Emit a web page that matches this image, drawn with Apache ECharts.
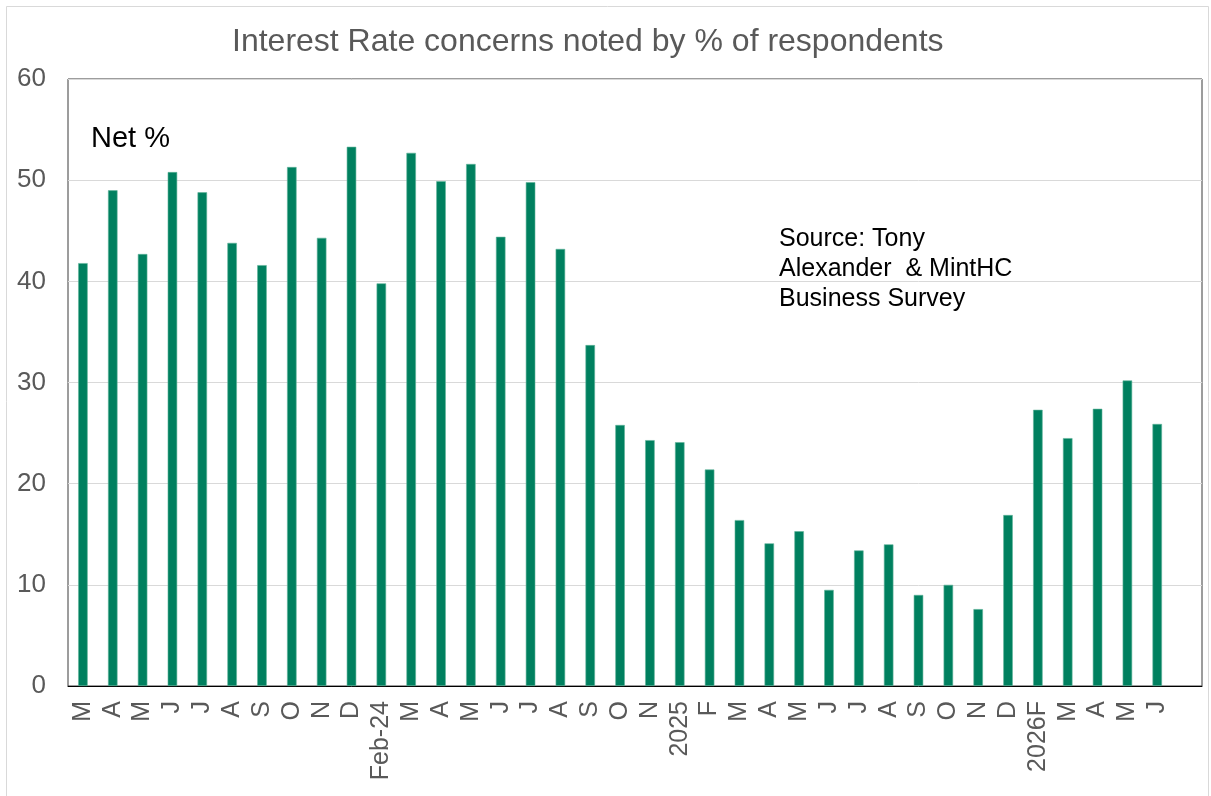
<!DOCTYPE html>
<html>
<head>
<meta charset="utf-8">
<script src="https://cdn.jsdelivr.net/npm/echarts@6/dist/echarts.min.js"></script>
<style>
html,body{margin:0;padding:0;background:#fff;}
#chart{width:1211px;height:796px;}
</style>
</head>
<body>
<div id="chart"></div>
<script>
const categories = ['M','A','M','J','J','A','S','O','N','D','Feb-24','M','A','M','J','J','A','S','O','N','2025','F','M','A','M','J','J','A','S','O','N','D','2026F','M','A','M','J',''];
const netPct = [41.8,49.0,42.7,50.8,48.8,43.8,41.6,51.3,44.3,53.3,39.8,52.7,49.9,51.6,44.4,49.8,43.2,33.7,25.8,24.3,24.1,21.4,16.4,14.1,15.3,9.5,13.4,14.0,9.0,10.0,7.6,16.9,27.3,24.5,27.4,30.2,25.9,null];
const yTicks = [0,10,20,30,40,50,60];
const titleText = 'Interest Rate concerns noted by % of respondents';
const netLabel = 'Net %';
const sourceText = 'Source: Tony\nAlexander  & MintHC\nBusiness Survey';

const chart = echarts.init(document.getElementById('chart'), null, {renderer:'canvas'});
chart.setOption({
  backgroundColor:'#fff',
  animation:false,
  title:{
    text:titleText, left:227, top:21,
    textStyle:{fontFamily:'Liberation Sans, Arial, sans-serif', fontSize:32, fontWeight:'normal', color:'#595959'}
  },
  grid:{left:68, top:79, right:9, bottom:110, show:true, borderColor:'#3a3a3a', borderWidth:1, backgroundColor:'transparent'},
  xAxis:{
    type:'category', data:categories,
    axisLine:{show:true, lineStyle:{color:'#000', width:1}},
    axisTick:{show:false},
    axisLabel:{interval:0, rotate:90, margin:15, fontFamily:'Liberation Sans, Arial, sans-serif', fontSize:25, color:'#595959'}
  },
  yAxis:{
    type:'value', min:yTicks[0], max:yTicks[yTicks.length-1], interval:10,
    axisLine:{show:false}, axisTick:{show:false},
    splitLine:{show:true, lineStyle:{color:'#d9d9d9', width:1}},
    axisLabel:{margin:22, fontFamily:'Liberation Sans, Arial, sans-serif', fontSize:26, color:'#595959'}
  },
  series:[{
    type:'bar', data:netPct, barWidth:9.5,
    itemStyle:{color:'#00805f', borderColor:'#5fb39b', borderWidth:0.6}
  }],
  graphic:[
    {type:'rect', left:4, top:4, shape:{width:1202, height:790}, style:{fill:'none', stroke:'#d9d9d9', lineWidth:1}, silent:true, z:-1},
    {type:'text', left:91, top:124, style:{text:netLabel, font:'29px "Liberation Sans", Arial, sans-serif', fill:'#000'}},
    {type:'text', left:779, top:224, style:{text:sourceText, font:'25px "Liberation Sans", Arial, sans-serif', fill:'#000', lineHeight:30}}
  ]
});
</script>
</body>
</html>
